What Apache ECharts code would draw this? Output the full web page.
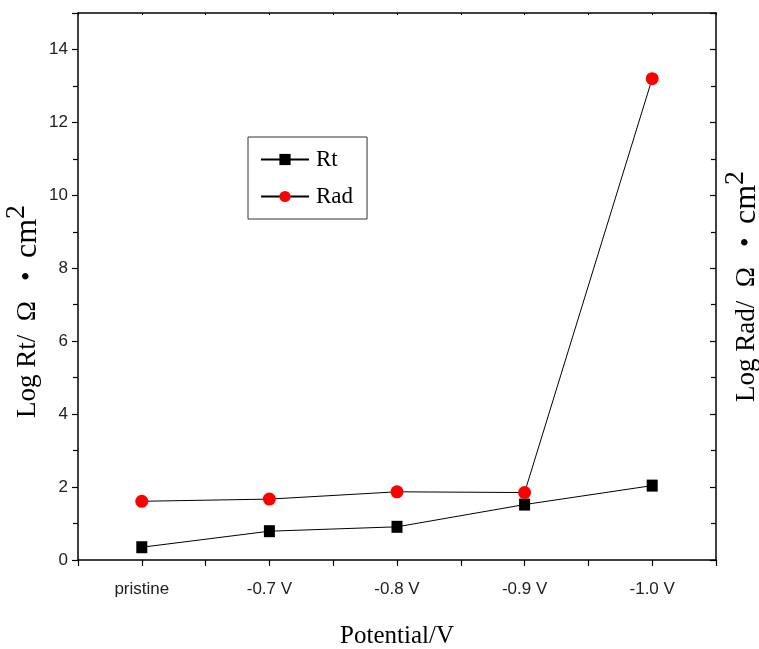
<!DOCTYPE html>
<html>
<head>
<meta charset="utf-8">
<script src="https://cdn.jsdelivr.net/npm/echarts@6/dist/echarts.min.js"></script>
<style>html,body{margin:0;padding:0;background:#fff}#c{width:759px;height:649px}</style>
</head>
<body>
<div id="c"></div>
<script>
const categories = ['pristine', '-0.7 V', '-0.8 V', '-0.9 V', '-1.0 V'];
const rtValues = [0.35, 0.79, 0.91, 1.52, 2.04];
const radValues = [1.61, 1.67, 1.87, 1.85, 13.2];
const yMin = 0, yMax = 15, yInterval = 2;

const chart = echarts.init(document.getElementById('c'), null, {renderer: 'canvas'});
const serif = '"Liberation Serif", "DejaVu Serif", serif';
const sans = '"Liberation Sans", Arial, sans-serif';
const axisLineStyle = {color: '#000', width: 1.5};
function nameStyle(pad) {
  return {
    fontFamily: serif, fontSize: 27, color: '#000', lineHeight: 34,
    padding: pad,
    rich: {
      c: {fontFamily: serif, fontSize: 32, color: '#000', lineHeight: 34},
      sup: {fontFamily: serif, fontSize: 28, color: '#000', verticalAlign: 'top', lineHeight: 50}
    }
  };
}

chart.setOption({
  animation: false,
  backgroundColor: '#fff',
  grid: {left: 78, right: 43, top: 13, bottom: 89, containLabel: false, outerBoundsMode: 'none'},
  legend: {
    left: 248, top: 137,
    orient: 'vertical',
    data: ['Rt', 'Rad'],
    itemWidth: 48, itemHeight: 14, itemGap: 14,
    padding: [11, 14, 11, 12],
    borderColor: '#333', borderWidth: 1,
    textStyle: {fontFamily: serif, fontSize: 23, color: '#000', padding: [0, 0, 0, 2]}
  },
  xAxis: [
    {
      type: 'category', data: categories, position: 'bottom', boundaryGap: true,
      axisLine: {show: true, lineStyle: axisLineStyle},
      axisTick: {show: true, alignWithLabel: true, length: 6, lineStyle: {color: '#000', width: 1.2}},
      axisLabel: {fontFamily: sans, fontSize: 17, color: '#222', margin: 21},
      splitLine: {show: false},
      name: 'Potential/V', nameLocation: 'middle', nameGap: 64, nameMoveOverlap: false,
      nameTextStyle: {fontFamily: serif, fontSize: 25, color: '#000'}
    },
    {
      type: 'category', data: categories, position: 'bottom', boundaryGap: true,
      axisLine: {show: false},
      axisTick: {show: true, length: 6, lineStyle: {color: '#000', width: 1.2}},
      axisLabel: {show: false}, splitLine: {show: false}
    },
    {
      type: 'category', data: categories, position: 'top', boundaryGap: true,
      axisLine: {show: true, lineStyle: axisLineStyle},
      axisTick: {show: true, inside: true, alignWithLabel: true, length: 2, lineStyle: {color: '#000', width: 1}},
      axisLabel: {show: false}, splitLine: {show: false}
    },
    {
      type: 'category', data: categories, position: 'top', boundaryGap: true,
      axisLine: {show: false},
      axisTick: {show: true, inside: true, length: 2, lineStyle: {color: '#000', width: 1}},
      axisLabel: {show: false}, splitLine: {show: false}
    }
  ],
  yAxis: [
    {
      type: 'value', min: yMin, max: yMax, interval: yInterval, position: 'left',
      axisLine: {show: true, lineStyle: axisLineStyle},
      axisTick: {show: true, length: 6, lineStyle: {color: '#000', width: 1.2}},
      minorTick: {show: true, splitNumber: 2, length: 5, lineStyle: {color: '#000', width: 1.2}},
      axisLabel: {fontFamily: sans, fontSize: 17, color: '#222', margin: 10, showMaxLabel: false},
      splitLine: {show: false},
      name: 'Log Rt/  Ω   •  {c|cm}{sup|2}', nameLocation: 'middle', nameGap: 25, nameMoveOverlap: false,
      nameTextStyle: nameStyle([0, 50, 0, 0])
    },
    {
      type: 'value', min: yMin, max: yMax, interval: yInterval, position: 'right',
      axisLine: {show: true, lineStyle: axisLineStyle},
      axisTick: {show: true, inside: true, length: 6, lineStyle: {color: '#000', width: 1.2}},
      minorTick: {show: true, inside: true, splitNumber: 2, length: 5, lineStyle: {color: '#000', width: 1.2}},
      axisLabel: {show: false},
      splitLine: {show: false},
      name: 'Log Rad/  Ω   •  {c|cm}{sup|2}', nameLocation: 'middle', nameGap: 6, nameMoveOverlap: false,
      nameTextStyle: nameStyle([0, 0, 0, 0])
    }
  ],
  series: [
    {
      name: 'Rt', type: 'line', xAxisIndex: 0, yAxisIndex: 0, data: rtValues,
      symbol: 'rect', symbolSize: [11, 12],
      itemStyle: {color: '#000'},
      lineStyle: {color: '#000', width: 1}
    },
    {
      name: 'Rad', type: 'line', xAxisIndex: 0, yAxisIndex: 1, data: radValues,
      symbol: 'circle', symbolSize: 13,
      itemStyle: {color: '#ff0000'},
      lineStyle: {color: '#000', width: 1}
    }
  ]
});
</script>
</body>
</html>
